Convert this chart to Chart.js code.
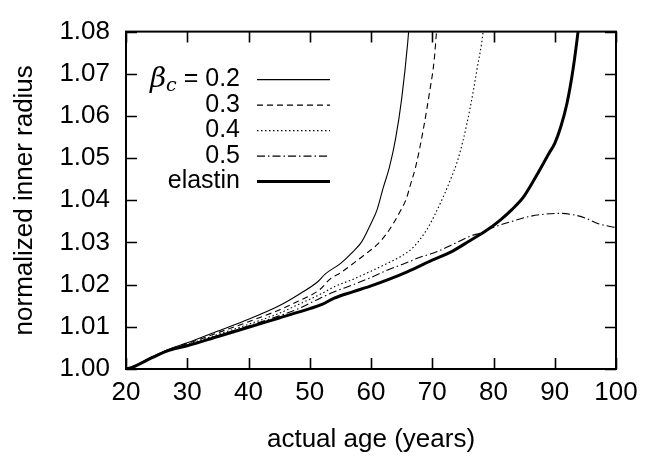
<!DOCTYPE html>
<html>
<head>
<meta charset="utf-8">
<script src="https://cdn.jsdelivr.net/npm/chart.js@4"></script>
<style>
  html, body { margin: 0; padding: 0; background: #fff; }
</style>
</head>
<body>
<canvas id="grafico" width="649" height="459"></canvas>
<script>
// ages (years) and normalized inner radius
const idadeB02 = [20, 21, 24, 27, 30, 35, 40, 45, 48, 51.4, 52.5, 55, 57, 58.5, 60, 61, 62, 63, 64, 65, 66, 66.4];
const raioB02 = [1.000, 1.0004, 1.0027, 1.0047, 1.0062, 1.0090, 1.0118, 1.0150, 1.0175, 1.0208, 1.0225, 1.0250, 1.0277, 1.0302, 1.0345, 1.0378, 1.0430, 1.0478, 1.0545, 1.0640, 1.0775, 1.0850];

const idadeB03 = [20, 21, 24, 27, 30, 35, 40, 45, 48, 51.7, 53.3, 55, 58.7, 61, 62.6, 64.7, 65.8, 66.4, 67.3, 68.5, 69.6, 70.3, 70.7, 71];
const raioB03 = [1.000, 1.0004, 1.0026, 1.0046, 1.0060, 1.0086, 1.0112, 1.0140, 1.0160, 1.0189, 1.0213, 1.0228, 1.0268, 1.0295, 1.0322, 1.0372, 1.0405, 1.0435, 1.0480, 1.0565, 1.0660, 1.0730, 1.0800, 1.0850];

const idadeB04 = [20, 21, 24, 27, 30, 35, 40, 45, 48, 51.7, 54, 57.1, 60, 62.6, 65, 67, 69, 70.5, 72, 73, 74, 75, 76.2, 77.3, 78.3, 78.6];
const raioB04 = [1.000, 1.0004, 1.0026, 1.0045, 1.0058, 1.0082, 1.0106, 1.0132, 1.0152, 1.0177, 1.0195, 1.0213, 1.0232, 1.0250, 1.0268, 1.0290, 1.0328, 1.0368, 1.0415, 1.0450, 1.0488, 1.0540, 1.0620, 1.0710, 1.0800, 1.0850];

const idadeB05 = [20, 21, 24, 27, 30, 35, 40, 45, 48, 51.7, 54, 57.1, 60, 62.6, 66, 68, 70.2, 73, 76.2, 78, 80, 83, 86, 89, 91, 93.6, 95, 97, 100];
const raioB05 = [1.000, 1.0004, 1.0025, 1.0045, 1.0056, 1.0079, 1.0102, 1.0126, 1.0142, 1.0168, 1.0183, 1.0200, 1.0217, 1.0234, 1.0253, 1.0265, 1.0275, 1.0293, 1.0315, 1.0323, 1.0336, 1.0350, 1.0362, 1.0368, 1.0369, 1.0364, 1.0358, 1.0345, 1.0335];

const idadeElastina = [20, 21, 24, 27, 30, 35, 40, 45, 50, 52, 54, 57, 60, 63, 66, 70, 73, 76, 79, 81, 83, 85, 87, 89, 90, 91, 92, 93, 93.8, 94.2];
const raioElastina = [1.000, 1.0004, 1.0025, 1.0044, 1.0055, 1.0077, 1.0099, 1.0121, 1.0143, 1.0153, 1.0168, 1.0183, 1.0197, 1.0213, 1.0231, 1.0258, 1.0277, 1.0303, 1.0330, 1.0352, 1.0378, 1.0410, 1.0458, 1.0510, 1.0535, 1.0575, 1.0630, 1.0712, 1.0800, 1.0855];

const rotulos = ["0.2", "0.3", "0.4", "0.5", "elastin"];
const ticksX = [20, 30, 40, 50, 60, 70, 80, 90, 100];
const ticksY = [1.00, 1.01, 1.02, 1.03, 1.04, 1.05, 1.06, 1.07, 1.08];

const fonte = "'Liberation Sans', Arial, Helvetica, sans-serif";

function pontos(xs, ys) {
  return xs.map((x, i) => ({ x: x, y: ys[i] }));
}

// legend drawn inside the plot: labels right aligned, samples to the right
const legenda = {
  id: "legenda",
  afterDatasetsDraw(chart) {
    const ctx = chart.ctx;
    const area = chart.chartArea;
    const direita = area.left + 114;
    const x0 = direita + 17;
    const x1 = direita + 90;
    ctx.save();
    chart.data.datasets.forEach((ds, i) => {
      const y = area.top + 48 + i * 25.5;
      ctx.fillStyle = "#000";
      ctx.textBaseline = "middle";
      ctx.textAlign = "right";
      ctx.font = "25px " + fonte;
      const texto = i === 0 ? " = " + ds.label : ds.label;
      ctx.fillText(texto, direita, y);
      if (i === 0) {
        const w = ctx.measureText(texto).width;
        ctx.font = "italic 19px 'DejaVu Serif', serif";
        ctx.fillText("c", direita - w, y + 6);
        const wc = ctx.measureText("c").width;
        ctx.font = "italic 28px 'DejaVu Serif', serif";
        ctx.fillText("\u03B2", direita - w - wc, y);
      }
      ctx.strokeStyle = ds.borderColor;
      ctx.lineWidth = ds.borderWidth;
      ctx.setLineDash(ds.borderDash || []);
      ctx.beginPath();
      ctx.moveTo(x0, y);
      ctx.lineTo(x1, y);
      ctx.stroke();
      ctx.setLineDash([]);
    });
    ctx.restore();
  }
};

// frame with inward ticks on all four sides
const moldura = {
  id: "moldura",
  afterDraw(chart) {
    const ctx = chart.ctx;
    const a = chart.chartArea;
    const sx = chart.scales.x;
    const sy = chart.scales.y;
    const t = 11;
    ctx.save();
    ctx.strokeStyle = "#000";
    ctx.lineWidth = 1.6;
    ticksX.forEach(v => {
      const p = Math.round(sx.getPixelForValue(v)) + 0.5;
      ctx.beginPath();
      ctx.moveTo(p, a.bottom); ctx.lineTo(p, a.bottom - t);
      ctx.moveTo(p, a.top); ctx.lineTo(p, a.top + t);
      ctx.stroke();
    });
    ticksY.forEach(v => {
      const p = Math.round(sy.getPixelForValue(v)) + 0.5;
      ctx.beginPath();
      ctx.moveTo(a.left, p); ctx.lineTo(a.left + t, p);
      ctx.moveTo(a.right, p); ctx.lineTo(a.right - t, p);
      ctx.stroke();
    });
    ctx.lineWidth = 2;
    ctx.strokeRect(a.left, a.top, a.right - a.left, a.bottom - a.top);
    ctx.restore();
  }
};

new Chart(document.getElementById("grafico"), {
  type: "line",
  data: {
    datasets: [
      {
        label: rotulos[0],
        data: pontos(idadeB02, raioB02),
        borderWidth: 1.1,
        borderColor: "#000",
      },
      {
        label: rotulos[1],
        data: pontos(idadeB03, raioB03),
        borderWidth: 1.1,
        borderColor: "#000",
        borderDash: [6, 4],
      },
      {
        label: rotulos[2],
        data: pontos(idadeB04, raioB04),
        borderWidth: 1.1,
        borderColor: "#000",
        borderDash: [1.5, 2.5],
      },
      {
        label: rotulos[3],
        data: pontos(idadeB05, raioB05),
        borderWidth: 1.1,
        borderColor: "#000",
        borderDash: [8, 3, 1.5, 3],
      },
      {
        label: rotulos[4],
        data: pontos(idadeElastina, raioElastina),
        borderWidth: 3,
        borderColor: "#000",
      },
    ],
  },
  options: {
    responsive: false,
    animation: false,
    devicePixelRatio: 1,
    layout: { padding: { top: 20, right: 33, left: 0, bottom: 0 } },
    elements: {
      point: { radius: 0 },
      line: { cubicInterpolationMode: "monotone", fill: false },
    },
    plugins: {
      legend: { display: false },
      tooltip: { enabled: false },
    },
    scales: {
      x: {
        type: "linear",
        min: 20,
        max: 100,
        afterBuildTicks: s => { s.ticks = ticksX.map(v => ({ value: v })); },
        afterFit: s => { s.height = 90; },
        grid: { display: false, drawTicks: false },
        border: { display: false },
        ticks: {
          color: "#000",
          padding: 8,
          maxRotation: 0,
          font: { family: fonte, size: 26 },
        },
        title: {
          display: true,
          text: "actual age (years)",
          color: "#000",
          font: { family: fonte, size: 26 },
          padding: { top: 0, bottom: 4 },
        },
      },
      y: {
        type: "linear",
        min: 1.0,
        max: 1.08,
        afterBuildTicks: s => { s.ticks = ticksY.map(v => ({ value: v })); },
        afterFit: s => { s.width = 126; },
        grid: { display: false, drawTicks: false },
        border: { display: false },
        ticks: {
          color: "#000",
          padding: 16,
          font: { family: fonte, size: 26 },
          callback: v => Number(v).toFixed(2),
        },
        title: {
          display: true,
          text: "normalized inner radius",
          color: "#000",
          font: { family: fonte, size: 26 },
          padding: { top: 9, bottom: 0 },
        },
      },
    },
  },
  plugins: [legenda, moldura],
});
</script>
</body>
</html>
